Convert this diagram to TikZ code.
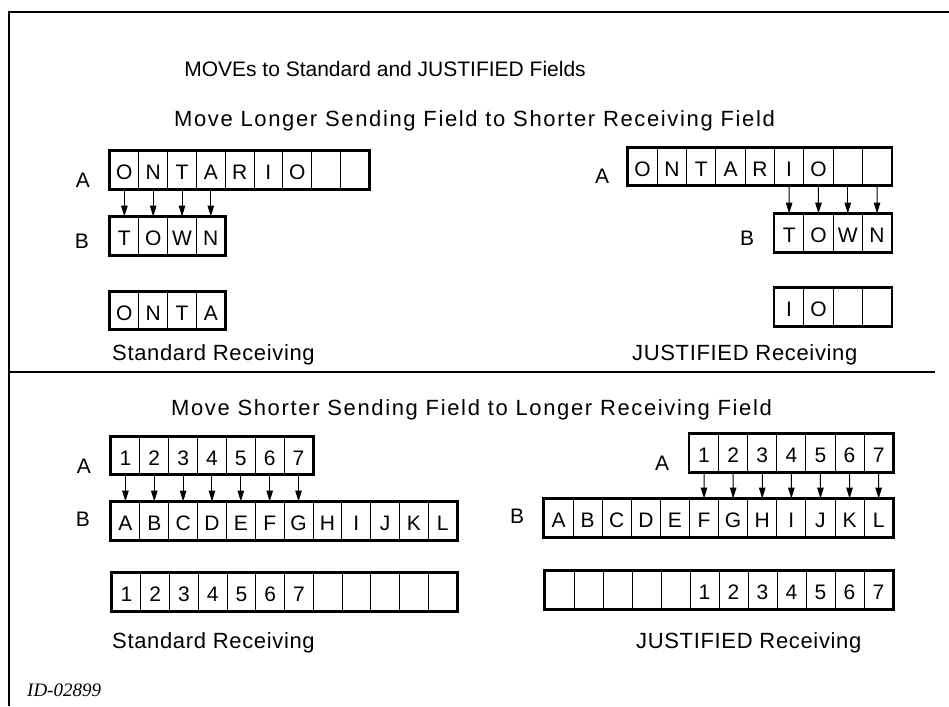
\documentclass[tikz,border=0pt]{standalone}
\usepackage{fontspec}
\setmainfont{Liberation Sans}
\newfontfamily\spacedA[LetterSpace=7.5]{Liberation Sans}
\newfontfamily\spacedB[LetterSpace=3]{Liberation Sans}
\newfontfamily\idfont{Liberation Serif}
\usetikzlibrary{arrows.meta}
\newcommand\fieldrow[6]{%
  \foreach \t [count=\i] in {#6} {
    \node[cell, minimum width=#4pt, minimum height=#5pt] (#1\i) at ({#2+(\i-0.5)*#4}, {#3+0.5*#5}) {\t};
  }%
}
\newcommand\fieldbox[2]{\draw[outerbox] (#11.north west) rectangle (#1#2.south east);}
\begin{document}
\begin{tikzpicture}[x=1pt,y=-1pt,
  cell/.style={draw, line width=0.9pt, inner sep=0pt, text height=19pt, text depth=0pt, font=\fontsize{21}{21}\selectfont},
  outerbox/.style={line width=2.4pt},
  mv/.style={line width=1pt, -{Triangle[width=6.5pt,length=11pt]}},
  lbl/.style={anchor=base, inner sep=0pt, font=\fontsize{21}{21}\selectfont},
  title/.style={anchor=base, inner sep=0pt, font=\fontsize{21}{21}\selectfont},
  subtitle/.style={anchor=base, inner sep=0pt, font=\fontsize{22}{22}\spacedA},
  caption/.style={anchor=base west, inner sep=0pt, font=\fontsize{22}{22}\spacedB},
  frame/.style={line width=1.4pt}]
\useasboundingbox (0,0) rectangle (949,706);
% frame
\draw[frame] (9,706) -- (9,12) -- (949,12);
\draw[line width=1.8pt] (9,372) -- (935,372);
% headings
\node[title] (t0) at (385,77) {MOVEs to Standard and JUSTIFIED Fields};
\node[subtitle] (t1) at (474.5,126) {Move Longer Sending Field to Shorter Receiving Field};
\node[subtitle] (t2) at (471.5,415) {Move Shorter Sending Field to Longer Receiving Field};
% ---------- top left
\fieldrow{tlA}{110}{151}{28.8}{38}{O,N,T,A,R,I,O,{},{}}
\fieldbox{tlA}{9}
\fieldrow{tlB}{110}{217}{28.8}{38}{T,O,W,N}
\fieldbox{tlB}{4}
\fieldrow{tlR}{110}{292}{28.8}{37}{O,N,T,A}
\fieldbox{tlR}{4}
\foreach \i in {1,...,4} {\draw[mv] (tlA\i.south) -- (tlB\i.north);}
\node[lbl] (tlLA) at (83,187) {A};
\node[lbl] (tlLB) at (82,248) {B};
\node[caption] (tlC) at (112,360) {Standard Receiving};
% ---------- top right
\fieldrow{trA}{628}{148}{29.3}{37}{O,N,T,A,R,I,O,{},{}}
\fieldbox{trA}{9}
\fieldrow{trB}{774.5}{214}{29.3}{38}{T,O,W,N}
\fieldbox{trB}{4}
\fieldrow{trR}{774.5}{288}{29.3}{38}{I,O,{},{}}
\fieldbox{trR}{4}
\foreach \i [evaluate=\i as \j using int(\i+5)] in {1,...,4} {\draw[mv] (trA\j.south) -- (trB\i.north);}
\node[lbl] (trLA) at (602,183) {A};
\node[lbl] (trLB) at (747,245) {B};
\node[caption] (trC) at (632,360) {JUSTIFIED Receiving};
% ---------- bottom left
\fieldrow{blA}{111}{437}{28.85}{37}{1,2,3,4,5,6,7}
\fieldbox{blA}{7}
\fieldrow{blB}{111}{502}{28.85}{38}{A,B,C,D,E,F,G,H,I,J,K,L}
\fieldbox{blB}{12}
\fieldrow{blR}{112}{573}{28.75}{38}{1,2,3,4,5,6,7,{},{},{},{},{}}
\fieldbox{blR}{12}
\foreach \i in {1,...,7} {\draw[mv] (blA\i.south) -- (blB\i.north);}
\node[lbl] (blLA) at (84,473) {A};
\node[lbl] (blLB) at (83,526) {B};
\node[caption] (blC) at (112,648) {Standard Receiving};
% ---------- bottom right
\fieldrow{brA}{689.5}{434}{29.1}{38}{1,2,3,4,5,6,7}
\fieldbox{brA}{7}
\fieldrow{brB}{544}{499}{29.1}{38}{A,B,C,D,E,F,G,H,I,J,K,L}
\fieldbox{brB}{12}
\fieldrow{brR}{545}{571}{29.0}{38}{{},{},{},{},{},1,2,3,4,5,6,7}
\fieldbox{brR}{12}
\foreach \i [evaluate=\i as \j using int(\i+5)] in {1,...,7} {\draw[mv] (brA\i.south) -- (brB\j.north);}
\node[lbl] (brLA) at (662,470) {A};
\node[lbl] (brLB) at (517,523) {B};
\node[caption] (brC) at (636,648) {JUSTIFIED Receiving};
% id
\node[anchor=base west, inner sep=0pt, font=\fontsize{19}{19}\idfont\itshape] (id) at (27,696) {ID-02899};
\end{tikzpicture}
\end{document}
